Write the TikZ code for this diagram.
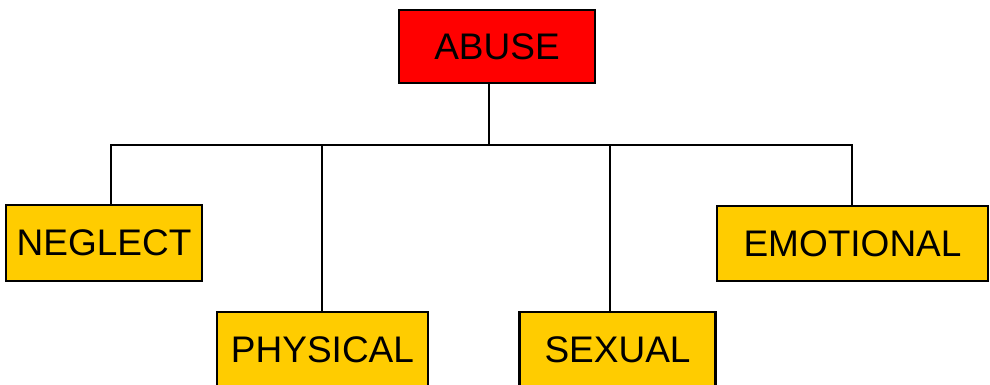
\documentclass[tikz,border=0pt]{standalone}
\usepackage{fontspec}
\setmainfont{Liberation Sans}
\definecolor{abred}{HTML}{FF0000}
\definecolor{abyel}{HTML}{FFCC00}
\begin{document}
\begin{tikzpicture}[x=1pt,y=-1pt,
  box/.style={draw=black,line width=2.2pt,inner sep=0pt,font=\fontsize{37}{42}\selectfont},
  redbox/.style={box,fill=abred},
  yelbox/.style={box,fill=abyel},
  conn/.style={draw=black,line width=1.4pt}]
\useasboundingbox (0,0) rectangle (990,385);
\node[redbox,minimum width=196pt,minimum height=73pt] (abuse) at (497,46.5) {ABUSE};
\node[yelbox,minimum width=196pt,minimum height=76pt] (neglect) at (104,243) {NEGLECT};
\node[yelbox,minimum width=271pt,minimum height=75pt] (emotional) at (852.5,243.5) {EMOTIONAL};
\node[yelbox,minimum width=211pt,minimum height=76pt] (physical) at (322.5,350) {PHYSICAL};
\node[yelbox,minimum width=196pt,minimum height=76pt] (sexual) at (617.5,350) {SEXUAL};
\coordinate (bus) at (489,145);
\coordinate (bl) at (111,145);
\coordinate (br) at (852,145);
\coordinate (bp) at (322,145);
\coordinate (bs) at (610,145);
\draw[conn] (abuse.south -| bus) -- (bus);
\draw[conn] (neglect.north -| bl) -- (bl) -- (br) -- (emotional.north -| br);
\draw[conn] (bp) -- (physical.north -| bp);
\draw[conn] (bs) -- (sexual.north -| bs);
\end{tikzpicture}
\end{document}
